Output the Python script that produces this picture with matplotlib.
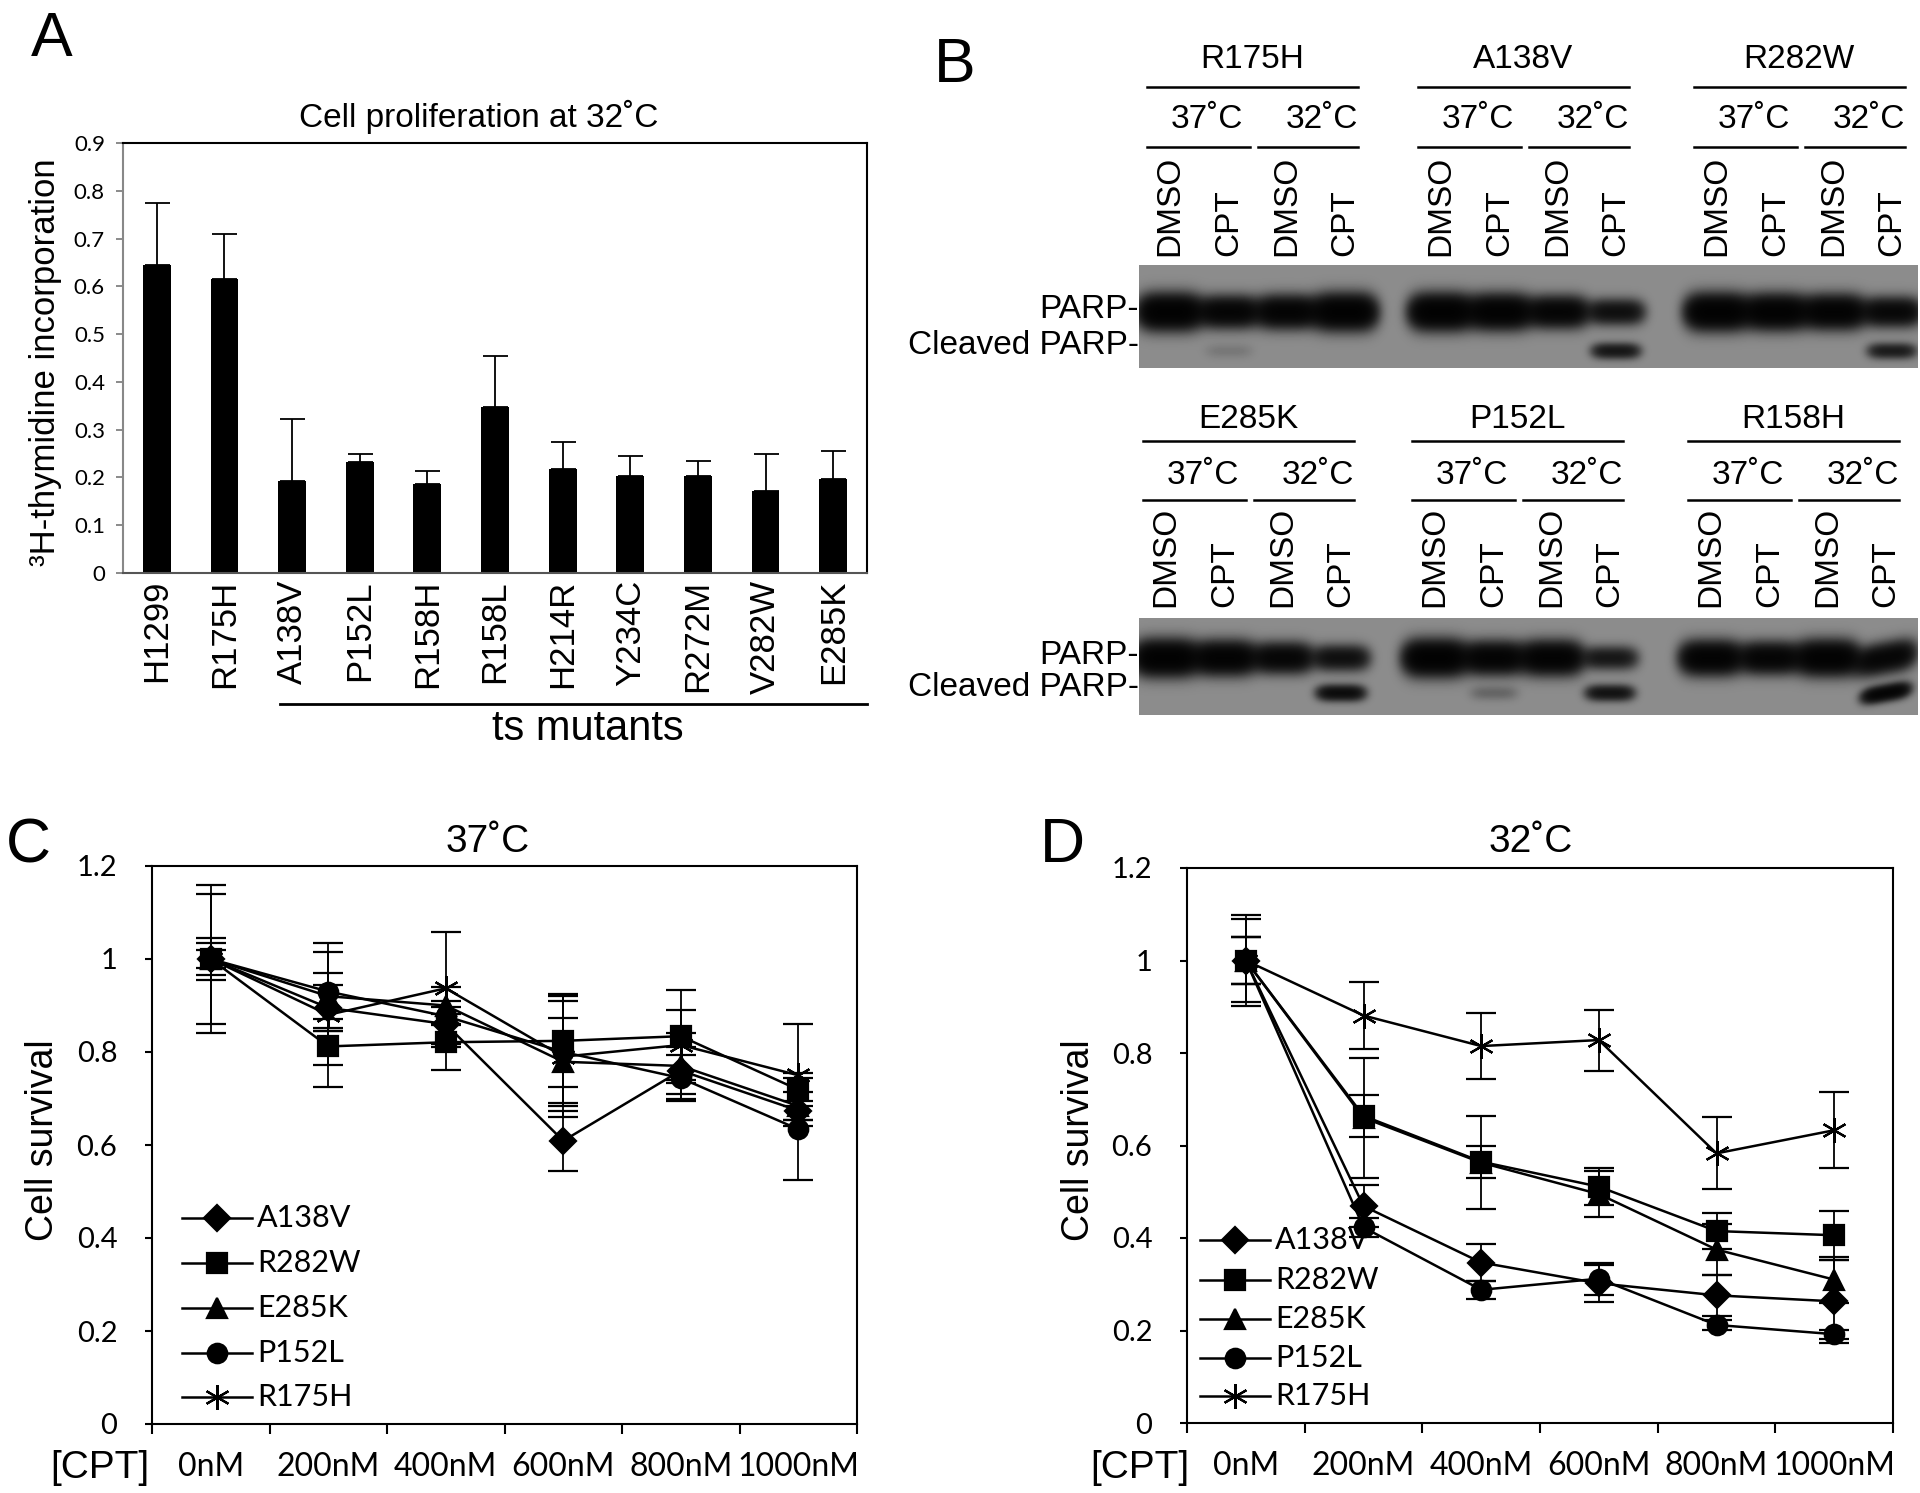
import numpy as np
import matplotlib
matplotlib.use('Agg')
import matplotlib.pyplot as plt

ARIAL = ['Liberation Sans', 'DejaVu Sans']
CALIBRI = ['Lato', 'DejaVu Sans']

# ---- panel A: proliferation at 32C ----
cell_lines = ['H1299', 'R175H', 'A138V', 'P152L', 'R158H', 'R158L',
              'H214R', 'Y234C', 'R272M', 'V282W', 'E285K']
proliferation = [0.645, 0.615, 0.193, 0.233, 0.187, 0.347, 0.218, 0.203, 0.203, 0.172, 0.197]
proliferation_err = [0.130, 0.095, 0.129, 0.017, 0.026, 0.108, 0.057, 0.042, 0.032, 0.078, 0.058]

# ---- panels C / D: survival ----
doses = ['0nM', '200nM', '400nM', '600nM', '800nM', '1000nM']
mutants = ['A138V', 'R282W', 'E285K', 'P152L', 'R175H']

a138v_37 = [1.0, 0.895, 0.860, 0.609, 0.760, 0.674]
r282w_37 = [1.0, 0.812, 0.821, 0.824, 0.834, 0.719]
e285k_37 = [1.0, 0.920, 0.900, 0.779, 0.770, 0.684]
p152l_37 = [1.0, 0.930, 0.877, 0.800, 0.744, 0.634]
r175h_37 = [1.0, 0.880, 0.937, 0.790, 0.815, 0.750]
a138v_37_err = [0.140, 0.050, 0.050, 0.065, 0.050, 0.020]
r282w_37_err = [0.045, 0.040, 0.060, 0.100, 0.100, 0.035]
e285k_37_err = [0.035, 0.050, 0.040, 0.095, 0.070, 0.030]
p152l_37_err = [0.020, 0.085, 0.020, 0.110, 0.050, 0.110]
r175h_37_err = [0.160, 0.155, 0.120, 0.130, 0.075, 0.110]

a138v_32 = [1.0, 0.469, 0.347, 0.302, 0.276, 0.263]
r282w_32 = [1.0, 0.664, 0.565, 0.511, 0.415, 0.406]
e285k_32 = [1.0, 0.660, 0.563, 0.495, 0.375, 0.310]
p152l_32 = [1.0, 0.423, 0.288, 0.312, 0.212, 0.192]
r175h_32 = [1.0, 0.881, 0.815, 0.828, 0.583, 0.633]
a138v_32_err = [0.050, 0.045, 0.040, 0.040, 0.045, 0.090]
r282w_32_err = [0.050, 0.045, 0.035, 0.040, 0.038, 0.053]
e285k_32_err = [0.050, 0.130, 0.100, 0.050, 0.055, 0.050]
p152l_32_err = [0.090, 0.020, 0.020, 0.035, 0.010, 0.010]
r175h_32_err = [0.098, 0.072, 0.071, 0.066, 0.078, 0.082]

# ---- panel B: western blots (band darkness 0..1) ----
lanes = ['DMSO', 'CPT', 'DMSO', 'CPT']
temps = ['37˚C', '32˚C']
blot_top_groups = ['R175H', 'A138V', 'R282W']
blot_bottom_groups = ['E285K', 'P152L', 'R158H']
parp_top = [[1.0, 0.80, 0.85, 1.0], [1.0, 0.95, 0.80, 0.55], [1.0, 0.95, 0.90, 0.70]]
cleaved_top = [[0.0, 0.04, 0.0, 0.0], [0.0, 0.0, 0.0, 0.45], [0.0, 0.0, 0.0, 0.40]]
parp_bottom = [[1.0, 0.90, 0.75, 0.55], [1.0, 0.85, 0.90, 0.45], [0.90, 0.80, 0.95, 0.75]]
cleaved_bottom = [[0.0, 0.0, 0.0, 0.60], [0.0, 0.08, 0.0, 0.50], [0.0, 0.0, 0.0, 0.80]]

W, H = 1920, 1493
fig = plt.figure(figsize=(W / 100, H / 100), dpi=100)


def rect(left, top, right, bottom):
    return [left / W, 1 - bottom / H, (right - left) / W, (bottom - top) / H]


# overlay in pixel coordinates for annotations, legends and blots (drawn on top)
ov = fig.add_axes([0, 0, 1, 1])
ov.set_zorder(10)
ov.patch.set_facecolor('none')
ov.axis('off')

for letter, x, y in [('A', 52, 40), ('B', 955, 66), ('C', 28, 846), ('D', 1062, 846)]:
    ov.text(x, y, letter, fontsize=45, family=ARIAL, ha='center', va='center')

# ---- panel A ----
axA = fig.add_axes(rect(123, 143, 867, 573))
xA = np.arange(len(cell_lines))
axA.bar(xA, proliferation, width=0.41, color='black',
        yerr=[np.zeros(len(xA)), proliferation_err],
        error_kw=dict(ecolor='black', elinewidth=1.3, capsize=9, capthick=1.3))
axA.set_xlim(-0.5, len(cell_lines) - 0.5)
axA.set_ylim(0, 0.9)
axA.set_yticks(np.arange(0, 0.91, 0.1))
axA.set_yticklabels(['0'] + ['%.1f' % v for v in np.arange(0.1, 0.91, 0.1)], family=CALIBRI, fontsize=16)
axA.set_xticks(xA)
axA.set_xticklabels(cell_lines, rotation=90, family=ARIAL, fontsize=25, va='top')
axA.tick_params(axis='x', length=0, pad=5)
axA.tick_params(axis='y', length=5, width=1.2, pad=8, color='#777777')
for s in axA.spines.values():
    s.set_linewidth(1.5)
axA.spines['left'].set_color('#888888')
axA.spines['bottom'].set_color('#555555')
ov.text(479, 117, 'Cell proliferation at 32˚C', fontsize=24, family=ARIAL, ha='center', va='center')
ov.text(46, 362, '³H-thymidine incorporation', fontsize=25, family=ARIAL, rotation=90,
        ha='center', va='center')
ov.plot([280, 867], [704, 704], color='black', lw=2)
ov.text(588, 729, 'ts mutants', fontsize=30, family=ARIAL, ha='center', va='center')


# ---- panel B ----
lane_offsets = [23, 82, 140, 198]


def draw_blot(top, bottom, starts, groups, parp, cleaved, y_parp, y_cleaved, y_grp, y_line,
              y_temp, y_sub, y_lane):
    for s, name in zip(starts, groups):
        ov.text(s + 105, y_grp, name, fontsize=24, family=ARIAL, ha='center', va='center')
        ov.plot([s, s + 211], [y_line, y_line], color='black', lw=1.8)
        ov.text(s + 60, y_temp, temps[0], fontsize=24, family=ARIAL, ha='center', va='center')
        ov.text(s + 175, y_temp, temps[1], fontsize=24, family=ARIAL, ha='center', va='center')
        ov.plot([s, s + 103], [y_sub, y_sub], color='black', lw=1.8)
        ov.plot([s + 111, s + 211], [y_sub, y_sub], color='black', lw=1.8)
        for off, lab in zip(lane_offsets, lanes):
            ov.text(s + off, y_lane, lab, fontsize=24, family=ARIAL, rotation=90,
                    ha='center', va='bottom')
    x0, x1 = 1139, 1918
    X, Y = np.meshgrid(np.arange(x0, x1) + 0.5, np.arange(top, bottom) + 0.5)
    dark = np.zeros_like(X)
    for gi, s in enumerate(starts):
        for li, off in enumerate(lane_offsets):
            xc = s + off
            tilt = -0.18 if (groups[gi] == 'R158H' and li == 3) else 0.0
            p = parp[gi][li]
            c = cleaved[gi][li]
            yp = y_parp + tilt * (X - xc)
            yc = y_cleaved + tilt * (X - xc)
            dark += p * np.exp(-((X - xc) / (23 + 7 * p)) ** 4) * np.exp(-((Y - yp) / (6 + 9 * p)) ** 2)
            dark += c * np.exp(-((X - xc) / 23) ** 4) * np.exp(-((Y - yc) / 7) ** 2)
    img = 0.55 * np.exp(-4.0 * dark)
    ov.imshow(img, cmap='gray', vmin=0, vmax=1, extent=(x0, x1, bottom, top),
              aspect='auto', interpolation='bilinear', zorder=1)
    ov.text(1139, y_parp - 3, 'PARP-', fontsize=24, family=ARIAL, ha='right', va='center')
    ov.text(1139, y_cleaved - 5, 'Cleaved PARP-', fontsize=24, family=ARIAL, ha='right', va='center')


draw_blot(265, 368, [1147, 1418, 1694], blot_top_groups, parp_top, cleaved_top, 312, 351,
          60, 87, 119, 147, 256)
draw_blot(618, 715, [1143, 1412, 1688], blot_bottom_groups, parp_bottom, cleaved_bottom, 658, 693,
          419, 441, 476, 500, 607)

# ---- panels C / D ----
markers = ['D', 's', '^', 'o', (6, 2, 0)]
msizes = [13, 14, 15, 14, 18]


def survival_panel(box, series, errs, title, title_x, ylab_x, cpt_x, leg_x, leg_y):
    ax = fig.add_axes(rect(*box))
    xc = np.arange(len(doses)) + 0.5
    for vals, err, m, ms in zip(series, errs, markers, msizes):
        ax.errorbar(xc, vals, yerr=err, color='black', lw=1.8, marker=m, ms=ms, mew=1.6,
                    elinewidth=1.3, capsize=11, capthick=1.3)
    ax.set_xlim(0, len(doses))
    ax.set_ylim(0, 1.2)
    ax.set_yticks([0, 0.2, 0.4, 0.6, 0.8, 1.0, 1.2])
    ax.set_yticklabels(['0', '0.2', '0.4', '0.6', '0.8', '1', '1.2'], family=CALIBRI, fontsize=21)
    ax.set_xticks(np.arange(len(doses) + 1))
    ax.set_xticklabels([])
    ax.set_xticks(xc, minor=True)
    ax.set_xticklabels(doses, minor=True, family=CALIBRI, fontsize=23)
    ax.tick_params(axis='x', which='major', length=7, width=1.5, direction='out')
    ax.tick_params(axis='x', which='minor', length=0, pad=20)
    ax.tick_params(axis='y', length=5, width=1.5, pad=20)
    for s in ax.spines.values():
        s.set_linewidth(1.5)
    top, bottom = box[1], box[3]
    ov.text(title_x, 842, title, fontsize=28, family=ARIAL, ha='center', va='center')
    ov.text(ylab_x, (top + bottom) / 2 - 5, 'Cell survival', fontsize=27, family=ARIAL,
            rotation=90, ha='center', va='center')
    ov.text(cpt_x, 1468, '[CPT]', fontsize=28, family=ARIAL, ha='center', va='center')
    for i, (name, m, ms) in enumerate(zip(mutants, markers, msizes)):
        y = leg_y[i]
        ov.plot([leg_x, leg_x + 70], [y, y], color='black', lw=1.8, zorder=5)
        ov.plot([leg_x + 35], [y], color='black', marker=m, ms=ms, mew=1.6, zorder=5)
        ov.text(leg_x + 75, y, name, fontsize=22, family=CALIBRI, ha='left', va='center', zorder=5)
    return ax


survival_panel((152, 866, 857, 1424),
               [a138v_37, r282w_37, e285k_37, p152l_37, r175h_37],
               [a138v_37_err, r282w_37_err, e285k_37_err, p152l_37_err, r175h_37_err],
               '37˚C', 488, 43, 100, 182, [1218, 1263, 1308, 1353, 1397])
survival_panel((1187, 868, 1893, 1423),
               [a138v_32, r282w_32, e285k_32, p152l_32, r175h_32],
               [a138v_32_err, r282w_32_err, e285k_32_err, p152l_32_err, r175h_32_err],
               '32˚C', 1531, 1079, 1140, 1200, [1240, 1280, 1319, 1358, 1396])

ov.set_xlim(0, W)
ov.set_ylim(H, 0)
fig.savefig('out.png', dpi=100)
